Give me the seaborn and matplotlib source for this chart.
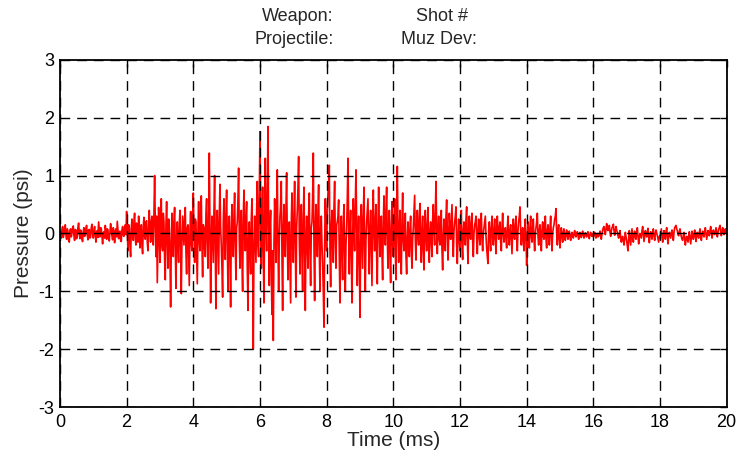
import numpy as np
import pandas as pd
import matplotlib
matplotlib.use("Agg")
import matplotlib.pyplot as plt
import seaborn as sns

# pressure trace, one row per millisecond (50 samples / ms)
row_00 = [0.05, -0.04, -0.08, 0.06, 0.12, -0.07, -0.02, 0.09, 0.15, -0.03, -0.10, 0.08, 0.04, -0.12, -0.15, 0.05, 0.08, -0.06, 0.00, 0.10, 0.13, -0.04, -0.12, 0.07, 0.06, -0.09, -0.05, 0.11, 0.18, 0.02, -0.09, 0.06, 0.02, -0.10, -0.14, 0.04, 0.10, -0.05, -0.03, 0.09, 0.14, -0.02, -0.11, 0.05, 0.07, -0.08, -0.06, 0.10, 0.16, -0.01]
row_01 = [-0.08, 0.05, 0.12, -0.04, -0.15, 0.02, 0.05, -0.07, 0.20, 0.06, -0.06, 0.10, 0.09, -0.05, -0.18, 0.01, 0.03, -0.08, 0.14, 0.04, -0.10, 0.08, 0.06, -0.09, -0.13, 0.03, 0.17, 0.05, -0.04, -0.11, 0.10, 0.02, -0.16, 0.04, 0.08, -0.06, 0.21, 0.07, -0.09, 0.03, 0.04, -0.12, -0.14, 0.06, 0.12, -0.03, -0.05, 0.09, 0.15, -0.02]
row_02 = [0.38, 0.05, -0.30, 0.15, 0.10, -0.20, -0.40, 0.08, 0.25, -0.05, -0.12, 0.20, 0.35, -0.10, -0.20, 0.18, 0.05, -0.15, 0.30, 0.10, -0.25, 0.05, 0.15, -0.20, -0.35, 0.12, 0.28, -0.05, -0.10, 0.20, 0.22, -0.15, -0.30, 0.10, 0.40, 0.05, -0.15, 0.20, 0.30, -0.10, -0.20, 0.35, 1.00, 0.20, -0.40, 0.30, -0.85, -0.20, 0.45, 0.10]
row_03 = [-0.50, 0.10, 0.60, -0.20, -0.30, 0.35, 0.20, -0.45, -0.80, 0.15, 0.55, -0.10, -0.60, 0.25, 0.10, -0.35, -1.27, -0.20, 0.35, 0.05, -0.40, 0.20, 0.45, -0.30, -0.95, -0.10, 0.20, -0.25, -0.50, 0.15, 0.40, -0.20, -1.04, -0.15, 0.30, 0.05, -0.20, 0.25, 0.45, -0.35, -0.70, 0.10, 0.15, -0.40, -0.90, 0.05, 0.38, -0.15, -0.30, 0.30]
row_04 = [0.70, 0.10, -0.50, 0.25, 0.20, -0.35, -0.87, 0.05, 0.55, -0.10, -0.30, 0.30, 0.65, -0.20, -0.75, 0.15, 0.10, -0.25, -0.40, 0.35, 0.60, -0.15, -0.60, 0.20, 1.39, 0.10, -1.20, -0.20, 0.30, -0.10, -0.50, 0.40, 1.00, -0.30, -1.30, 0.05, 0.40, -0.20, -0.70, 0.30, 0.85, 0.10, -0.20, -0.60, -1.10, 0.20, 0.60, -0.10, -0.45, 0.35]
row_05 = [0.75, -0.20, -1.00, 0.10, 0.30, -0.40, -1.27, 0.05, 0.50, -0.15, -0.40, 0.30, 0.70, -0.20, -0.80, 0.10, 0.20, 0.60, 1.13, -0.10, -0.60, 0.15, 0.40, -0.45, -1.00, 0.30, 0.75, -0.05, -0.30, 0.25, 0.55, -0.60, -1.33, -0.10, 0.20, -0.35, -0.70, 0.25, 0.60, -0.50, -2.00, -0.30, 0.30, -0.10, -0.50, 0.40, 0.90, -0.20, -0.40, 0.60]
row_06 = [1.76, 0.30, -0.60, 0.20, 0.80, -0.40, -1.20, 0.40, 1.30, 0.10, -0.30, 0.60, 1.85, 0.20, -0.90, 0.10, 0.40, -0.70, -1.40, -0.30, -1.85, -0.20, 0.60, 0.10, -0.50, 0.40, 1.10, -0.20, -1.00, -0.10, 0.30, 0.50, 0.90, -0.40, -1.33, 0.10, 0.50, -0.15, -0.40, 0.45, 1.05, -0.10, -0.80, 0.15, 0.20, -0.50, -1.20, 0.20, 0.70, -0.20]
row_07 = [-0.50, 0.30, 0.90, -0.20, -1.10, 0.10, 0.40, 0.80, 1.33, -0.10, -0.70, 0.20, 0.50, -0.40, -1.00, 0.30, 0.80, -0.30, -1.33, -0.10, 0.30, -0.20, -0.60, 0.35, 0.70, -0.30, -0.90, 0.10, 0.20, 0.60, 1.39, -0.20, -1.16, 0.10, 0.50, -0.15, -0.40, 0.40, 0.84, -0.30, -1.00, 0.05, 0.30, -0.20, -0.50, -1.00, -1.62, -0.20, 0.60, 0.10]
row_08 = [-0.30, 0.40, 0.70, 0.90, 1.18, -0.30, -0.92, 0.10, 0.40, -0.20, -0.50, 0.45, 0.90, -0.10, -0.60, 0.15, 0.20, 0.30, 0.58, -0.40, -1.20, -0.10, 0.30, -0.35, -0.80, 0.20, 0.50, -0.30, -1.00, -0.20, 0.10, 0.60, 1.30, 0.10, -0.70, 0.05, 0.40, -0.40, -1.20, -0.10, 0.60, 0.10, -0.30, 0.50, 1.10, 0.20, -0.90, -0.20, 0.30, -0.40]
row_09 = [-1.45, -0.30, 0.50, -0.10, -0.60, 0.30, 0.80, -0.20, -1.00, -0.10, 0.20, 0.40, 0.60, -0.20, -0.70, 0.10, 0.40, -0.30, -0.90, 0.20, 0.75, 0.05, -0.30, 0.20, 0.50, -0.40, -0.87, 0.15, 0.80, 0.10, -0.40, 0.05, 0.30, -0.35, -0.80, 0.20, 0.65, 0.05, -0.20, 0.40, 0.80, -0.10, -0.60, 0.10, 0.40, -0.40, -0.85, 0.10, 0.55, -0.15]
row_10 = [-0.40, 0.20, 0.60, -0.30, -0.80, 0.40, 1.16, 0.10, -0.50, 0.05, 0.40, -0.30, -0.70, 0.20, 0.70, -0.10, -0.30, 0.10, 0.35, -0.40, -0.70, -0.10, 0.20, -0.15, -0.40, 0.10, 0.30, -0.30, -0.60, -0.10, 0.10, 0.40, 0.66, -0.10, -0.46, 0.10, 0.40, -0.05, -0.20, 0.30, 0.52, -0.20, -0.50, 0.05, 0.30, -0.30, -0.63, 0.10, 0.40, -0.10]
row_11 = [-0.30, 0.15, 0.45, -0.20, -0.50, 0.05, 0.20, -0.15, -0.40, 0.25, 0.50, 0.05, -0.20, 0.40, 0.90, 0.10, -0.35, 0.05, 0.30, -0.10, -0.20, 0.15, 0.40, -0.30, -0.63, -0.05, 0.25, -0.10, -0.30, 0.30, 0.58, 0.05, -0.46, -0.10, 0.35, 0.10, -0.10, 0.20, 0.50, -0.10, -0.40, 0.05, 0.20, 0.30, 0.46, -0.20, -0.52, -0.05, 0.25, -0.10]
row_12 = [-0.30, 0.10, 0.40, -0.20, -0.45, 0.05, 0.20, -0.10, -0.20, 0.25, 0.46, -0.10, -0.52, 0.05, 0.30, -0.05, -0.10, 0.20, 0.35, -0.15, -0.40, 0.00, 0.15, 0.20, 0.30, -0.10, -0.35, 0.05, 0.25, -0.05, -0.20, 0.20, 0.35, -0.10, -0.30, 0.00, 0.10, 0.20, 0.30, -0.05, -0.25, -0.40, -0.52, 0.05, 0.20, -0.10, -0.30, 0.10, 0.30, -0.05]
row_13 = [-0.20, 0.05, 0.25, -0.10, -0.35, 0.10, 0.30, 0.05, -0.10, 0.10, 0.20, -0.15, -0.30, 0.10, 0.35, 0.00, -0.15, 0.05, 0.10, -0.10, -0.25, 0.10, 0.30, -0.05, -0.20, 0.05, 0.15, -0.10, -0.35, 0.05, 0.25, -0.05, -0.10, 0.15, 0.30, -0.10, -0.30, 0.05, 0.20, 0.30, 0.46, 0.05, -0.20, 0.00, 0.10, -0.15, -0.30, 0.05, 0.25, -0.10]
row_14 = [-0.55, -0.10, 0.20, -0.05, -0.25, 0.10, 0.30, -0.05, -0.15, 0.10, 0.25, -0.10, -0.30, 0.00, 0.10, 0.20, 0.35, -0.05, -0.20, 0.05, 0.15, -0.10, -0.30, 0.05, 0.20, -0.05, -0.10, 0.15, 0.30, -0.10, -0.25, 0.05, 0.15, -0.05, -0.20, 0.10, 0.30, -0.05, -0.30, 0.00, 0.10, 0.15, 0.25, 0.30, 0.43, 0.00, -0.20, 0.05, 0.15, -0.10]
row_15 = [-0.25, -0.05, 0.10, -0.02, -0.15, 0.02, 0.08, -0.06, -0.12, 0.00, 0.06, -0.04, -0.10, 0.02, 0.04, -0.06, -0.12, -0.02, 0.02, -0.05, -0.08, 0.00, 0.05, -0.03, -0.06, 0.01, 0.03, -0.04, -0.10, -0.02, 0.02, -0.05, -0.07, 0.00, 0.04, -0.03, -0.08, -0.01, 0.01, -0.04, -0.06, 0.00, 0.03, -0.05, -0.09, -0.01, 0.02, -0.03, -0.05, 0.00]
row_16 = [-0.06, -0.02, 0.02, -0.04, -0.08, -0.02, 0.00, -0.06, -0.05, 0.00, 0.04, -0.05, -0.10, 0.00, 0.06, 0.10, 0.12, 0.03, -0.02, 0.08, 0.17, 0.08, 0.05, 0.10, 0.14, 0.02, -0.05, 0.04, 0.10, 0.12, 0.16, 0.05, -0.03, 0.05, 0.12, 0.06, 0.02, -0.04, -0.08, 0.00, 0.05, -0.06, -0.15, -0.08, -0.05, -0.12, -0.20, -0.10, 0.02, -0.06]
row_17 = [-0.12, -0.22, -0.30, -0.10, 0.05, -0.08, -0.20, -0.05, 0.08, -0.04, -0.15, -0.02, 0.04, -0.06, -0.10, 0.02, 0.10, -0.05, -0.18, -0.06, 0.00, -0.04, -0.08, 0.05, 0.12, -0.02, -0.14, -0.04, 0.05, -0.02, -0.06, 0.03, 0.09, -0.06, -0.16, -0.05, 0.03, -0.03, -0.10, 0.02, 0.08, -0.04, -0.12, 0.00, 0.06, 0.01, -0.04, -0.10, -0.15, -0.05]
row_18 = [-0.05, 0.02, 0.08, -0.05, -0.15, -0.02, 0.05, -0.04, -0.10, 0.03, 0.10, -0.06, -0.18, -0.05, 0.02, -0.03, -0.08, 0.01, 0.06, -0.04, -0.12, 0.02, 0.10, 0.12, 0.14, 0.08, 0.05, -0.02, -0.04, 0.03, 0.08, 0.00, -0.06, -0.10, -0.12, -0.03, 0.02, -0.08, -0.20, -0.10, -0.05, -0.10, -0.15, -0.04, 0.03, -0.08, -0.18, -0.06, 0.04, -0.02]
row_19 = [-0.10, -0.02, 0.06, -0.05, -0.14, -0.03, 0.02, -0.04, -0.08, 0.02, 0.08, -0.03, -0.12, -0.02, 0.04, -0.02, -0.06, 0.03, 0.10, 0.00, -0.10, -0.02, 0.05, 0.00, -0.04, 0.05, 0.12, 0.02, -0.08, 0.00, 0.06, 0.01, -0.02, 0.04, 0.10, 0.00, -0.06, 0.02, 0.08, 0.10, 0.14, 0.03, -0.04, 0.04, 0.10, 0.02, -0.02, 0.03, 0.08, 0.01, 0.02]

pressure = (row_00 + row_01 + row_02 + row_03 + row_04 + row_05 + row_06 + row_07 + row_08 + row_09
            + row_10 + row_11 + row_12 + row_13 + row_14 + row_15 + row_16 + row_17 + row_18 + row_19)
t_end = 20.0
time = np.linspace(0, t_end, len(pressure))

x_ticks = [0, 2, 4, 6, 8, 10, 12, 14, 16, 18, 20]
y_ticks = [-3, -2, -1, 0, 1, 2, 3]

df = pd.DataFrame({"Time (ms)": time, "Pressure (psi)": pressure})

sns.set_style("white")
plt.rcParams['font.family'] = ['Liberation Sans', 'DejaVu Sans']
plt.rcParams['axes.unicode_minus'] = False

fig = plt.figure(figsize=(7.4, 4.54), dpi=100)
ax = fig.add_axes([0.081, 0.1035, 0.901, 0.7645])

sns.lineplot(data=df, x="Time (ms)", y="Pressure (psi)", color="red",
             linewidth=1.2, estimator=None, ax=ax)

ax.set_xlim(0, 20)
ax.set_ylim(-3, 3)
ax.set_xticks(x_ticks)
ax.set_yticks(y_ticks)
# grid sits on top of the trace like in the original
ax.set_axisbelow(False)
ax.grid(True, color="black", linestyle=(0, (7, 5)), linewidth=1.0)
for s in ax.spines.values():
    s.set_color("black")
    s.set_linewidth(1.3)
ax.tick_params(direction="in", top=True, right=True, length=5, width=1,
               labelsize=13, colors="black")
ax.tick_params(axis="x", pad=5)
ax.tick_params(axis="y", pad=4)
ax.set_xlabel("Time (ms)", fontsize=15, labelpad=0)
ax.set_ylabel("Pressure (psi)", fontsize=15, labelpad=4)

fig.text(0.451, 0.963, "Weapon:", ha="right", va="center", fontsize=13)
fig.text(0.451, 0.914, "Projectile:", ha="right", va="center", fontsize=13)
fig.text(0.597, 0.963, "Shot #", ha="center", va="center", fontsize=13)
fig.text(0.593, 0.914, "Muz Dev:", ha="center", va="center", fontsize=13)

fig.savefig("out.png", dpi=100)
